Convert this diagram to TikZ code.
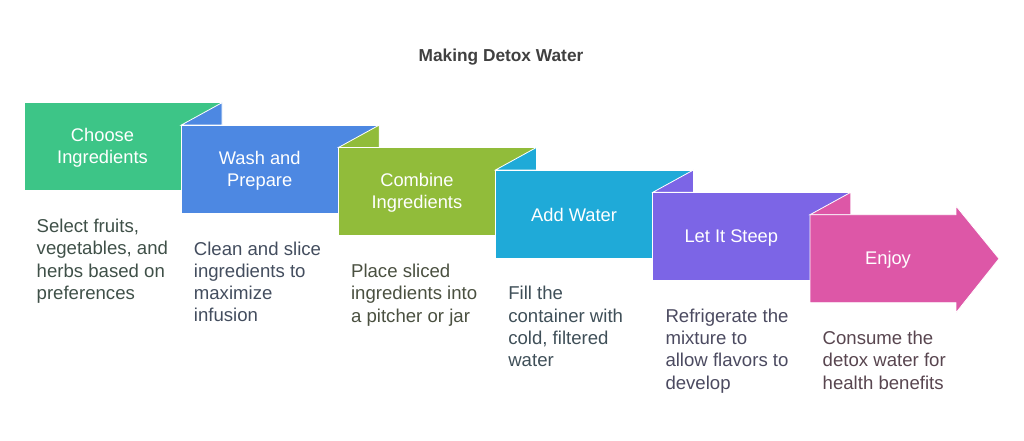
\documentclass[tikz,border=0pt]{standalone}
\usepackage{fontspec}
\setmainfont{Liberation Sans}
\definecolor{cA}{HTML}{3DC587}
\definecolor{cB}{HTML}{4D88E2}
\definecolor{cC}{HTML}{91BC3A}
\definecolor{cD}{HTML}{1FAAD8}
\definecolor{cE}{HTML}{7C65E6}
\definecolor{cF}{HTML}{DD57A7}
\definecolor{tA}{HTML}{3F5048}
\definecolor{tB}{HTML}{434D5E}
\definecolor{tC}{HTML}{4A5040}
\definecolor{tD}{HTML}{3F4F58}
\definecolor{tE}{HTML}{4B4A60}
\definecolor{tF}{HTML}{58454F}
\definecolor{titlec}{HTML}{404040}
\tikzset{
  boxshape/.style={draw=white, line width=0.8pt, line join=miter},
  steplabel/.style={text=white, align=center, font=\fontsize{18.3}{22}\selectfont, inner sep=0pt},
  desclabel/.style={anchor=north west, align=left, font=\fontsize{18.6}{22.3}\selectfont, inner sep=0pt},
  headline/.style={font=\bfseries\fontsize{17.3}{20}\selectfont, text=titlec, inner sep=0pt}
}
\begin{document}
\begin{tikzpicture}[x=1pt,y=-1pt]
\useasboundingbox (0,0) rectangle (1024,440);
\node[headline] (title) at (501,57) {Making Detox Water};
% box 1
\fill[cA, boxshape] (24,102.7) rectangle (222,190.7);
% fold 2 and box 2
\fill[cB, boxshape] (181.2,125.1) -- (222,102.7) -- (222,125.1) -- cycle;
\fill[cB, boxshape] (181.2,125.1) rectangle (379.2,213.1);
% fold 3 and box 3
\fill[cC, boxshape] (338.4,147.5) -- (379.2,125.1) -- (379.2,147.5) -- cycle;
\fill[cC, boxshape] (338.4,147.5) rectangle (536.4,235.5);
% fold 4 and box 4
\fill[cD, boxshape] (495.6,169.9) -- (536.4,147.5) -- (536.4,169.9) -- cycle;
\fill[cD, boxshape] (495.6,169.9) rectangle (693.6,257.9);
% fold 5 and box 5
\fill[cE, boxshape] (652.8,192.3) -- (693.6,169.9) -- (693.6,192.3) -- cycle;
\fill[cE, boxshape] (652.8,192.3) rectangle (850.8,280.3);
% fold 6 and arrow
\fill[cF, boxshape] (810,214.7) -- (850.8,192.3) -- (850.8,214.7) -- cycle;
\fill[cF, boxshape] (810,214.7) -- (956,214.7) -- (956,206) -- (999,258.7) -- (956,312.7) -- (956,302.7) -- (810,302.7) -- cycle;
% labels
\node[steplabel] (s1) at (102.5,148) {Choose\\Ingredients};
\node[steplabel] (s2) at (259.7,170.4) {Wash and\\Prepare};
\node[steplabel] (s3) at (416.9,192.8) {Combine\\Ingredients};
\node[steplabel] (s4) at (574.1,215.2) {Add Water};
\node[steplabel] (s5) at (731.3,237.6) {Let It Steep};
\node[steplabel] (s6) at (888,260) {Enjoy};
% descriptions
\node[desclabel, text=tA] (d1) at (36.5,219) {Select fruits,\\vegetables, and\\herbs based on\\preferences};
\node[desclabel, text=tB] (d2) at (193.7,241.4) {Clean and slice\\ingredients to\\maximize\\infusion};
\node[desclabel, text=tC] (d3) at (350.9,263.8) {Place sliced\\ingredients into\\a pitcher or jar};
\node[desclabel, text=tD] (d4) at (508.1,286.2) {Fill the\\container with\\cold, filtered\\water};
\node[desclabel, text=tE] (d5) at (665.3,308.6) {Refrigerate the\\mixture to\\allow flavors to\\develop};
\node[desclabel, text=tF] (d6) at (822.5,331) {Consume the\\detox water for\\health benefits};
\end{tikzpicture}
\end{document}
